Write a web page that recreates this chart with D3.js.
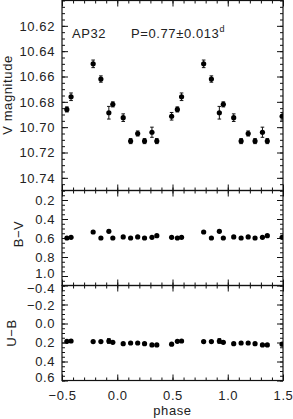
<!DOCTYPE html>
<html>
<head>
<meta charset="utf-8">
<script src="https://cdn.jsdelivr.net/npm/d3@7"></script>
<style>
  body { margin: 0; background: #fff; }
  text { font-family: "Liberation Sans", Arial, sans-serif; fill: #222; }
</style>
</head>
<body>
<div id="chart"></div>
<script>
// folded phases (0..1) of the observations
const phase = [0.054, 0.121, 0.185, 0.247, 0.314, 0.358, 0.492, 0.544, 0.582, 0.782, 0.852, 0.924, 0.960];
const vMag  = [10.6925, 10.711, 10.705, 10.711, 10.704, 10.711, 10.6914, 10.686, 10.676, 10.650, 10.662, 10.6886, 10.682];
const vErr  = [0.003, 0.002, 0.002, 0.002, 0.004, 0.002, 0.003, 0.002, 0.003, 0.003, 0.0025, 0.005, 0.002];
const bv    = [0.589, 0.600, 0.589, 0.600, 0.593, 0.576, 0.593, 0.600, 0.593, 0.537, 0.600, 0.530, 0.600];
const bvErr = [0.008, 0.008, 0.008, 0.008, 0.008, 0.008, 0.008, 0.008, 0.008, 0.008, 0.008, 0.012, 0.008];
const ub    = [0.212, 0.205, 0.205, 0.212, 0.225, 0.225, 0.218, 0.188, 0.184, 0.190, 0.190, 0.184, 0.198];
const ubErr = [0.01, 0.01, 0.01, 0.01, 0.01, 0.01, 0.01, 0.01, 0.01, 0.01, 0.01, 0.025, 0.01];
const cycles = [-1, 0, 1];
const xTicks = [-0.5, 0.0, 0.5, 1.0, 1.5];

const width = 293, height = 419;
const left = 62, right = 283;

const svg = d3.select("#chart").append("svg")
    .attr("width", width)
    .attr("height", height);

const x = d3.scaleLinear().domain([-0.5, 1.5]).range([left, right]);

const panels = [
  { key: "v", vals: vMag, errs: vErr, top: 0.5, bottom: 190.5, domain: [10.60, 10.75],
    major: d3.range(10.62, 10.745, 0.02), minor: d3.range(10.60, 10.7501, 0.005),
    fmt: d3.format(".2f"), label: "V magnitude", labelX: 12, labelY: 95 },
  { key: "bv", vals: bv, errs: bvErr, top: 190.5, bottom: 285.5, domain: [0.1, 1.1],
    major: [0.2, 0.4, 0.6, 0.8, 1.0], minor: d3.range(0.1, 1.101, 0.05),
    fmt: d3.format(".1f"), label: "B\u2212V", labelX: 23, labelY: 234 },
  { key: "ub", vals: ub, errs: ubErr, top: 285.5, bottom: 380.5, domain: [-0.4, 0.6],
    major: [-0.4, -0.2, 0.0, 0.2, 0.4, 0.6], minor: d3.range(-0.4, 0.601, 0.05),
    fmt: d => d3.format(".1f")(d).replace("-", "\u2212"), label: "U\u2212B", labelX: 16, labelY: 333 }
];

panels.forEach(function(p, i) {
  const y = d3.scaleLinear().domain(p.domain).range([p.top, p.bottom]);
  const last = i === panels.length - 1;
  const g = svg.append("g");

  g.append("clipPath").attr("id", "clip-" + p.key)
    .append("rect")
      .attr("x", left).attr("y", p.top)
      .attr("width", right - left).attr("height", p.bottom - p.top);

  // x ticks, top and bottom, pointing inward
  const xAxes = [
    { axis: d3.axisBottom(x), at: p.bottom, labels: last },
    { axis: d3.axisTop(x), at: p.top, labels: false }
  ];
  xAxes.forEach(function(a) {
    g.append("g").attr("transform", `translate(0,${a.at})`)
      .call(a.axis.tickValues(d3.range(-0.5, 1.501, 0.1)).tickSize(-3).tickFormat(""))
      .call(s => s.select(".domain").remove());
    const ax = g.append("g").attr("transform", `translate(0,${a.at})`)
      .call(a.axis.tickValues(xTicks).tickSize(-6).tickPadding(10)
        .tickFormat(a.labels ? (d => d3.format(".1f")(d).replace("-", "\u2212")) : ""))
      .call(s => s.select(".domain").remove());
    ax.selectAll("text").style("font-size", "13px").style("letter-spacing", "0.6px")
      .attr("fill", "#222");
  });

  // y ticks, left and right
  g.append("g").attr("transform", `translate(${left},0)`)
    .call(d3.axisLeft(y).tickValues(p.minor).tickSize(-3).tickFormat(""))
    .call(s => s.select(".domain").remove());
  const yl = g.append("g").attr("transform", `translate(${left},0)`)
    .call(d3.axisLeft(y).tickValues(p.major).tickSize(-6).tickPadding(7).tickFormat(p.fmt))
    .call(s => s.select(".domain").remove());
  yl.selectAll("text").style("font-size", "13px").style("letter-spacing", "0.6px")
    .attr("fill", "#222");
  // nudge the crowded labels near the panel joins
  if (p.key === "bv") {
    yl.selectAll("text").attr("dy", d => d === 1.0 ? "0.1em" : "0.32em");
  }
  if (p.key === "ub") {
    yl.selectAll("text").attr("dy", d => d === -0.4 ? "0.56em" : d === -0.2 ? "0.38em" : d === 0.6 ? "0.1em" : "0.32em");
  }
  g.append("g").attr("transform", `translate(${right},0)`)
    .call(d3.axisRight(y).tickValues(p.minor).tickSize(-3).tickFormat(""))
    .call(s => s.select(".domain").remove());
  g.append("g").attr("transform", `translate(${right},0)`)
    .call(d3.axisRight(y).tickValues(p.major).tickSize(-6).tickFormat(""))
    .call(s => s.select(".domain").remove());

  g.selectAll(".tick line").attr("stroke", "#111");

  // frame
  g.append("rect")
    .attr("x", left).attr("y", p.top)
    .attr("width", right - left).attr("height", p.bottom - p.top)
    .attr("fill", "none").attr("stroke", "#111").attr("stroke-width", 1.2);

  // folded points, repeated over three cycles
  const pts = [];
  cycles.forEach(c => phase.forEach((ph, j) => {
    const f = ph + c;
    if (f >= -0.5 && f <= 1.5) pts.push({ f: f, v: p.vals[j], e: p.errs[j] });
  }));

  const marks = g.append("g").attr("clip-path", `url(#clip-${p.key})`);
  const eb = marks.selectAll(".err").data(pts).join("g").attr("class", "err")
    .attr("stroke", "#111").attr("stroke-width", 1);
  eb.append("line")
    .attr("x1", d => x(d.f)).attr("x2", d => x(d.f))
    .attr("y1", d => y(d.v - d.e)).attr("y2", d => y(d.v + d.e));
  eb.append("line")
    .attr("x1", d => x(d.f) - 1.8).attr("x2", d => x(d.f) + 1.8)
    .attr("y1", d => y(d.v - d.e)).attr("y2", d => y(d.v - d.e));
  eb.append("line")
    .attr("x1", d => x(d.f) - 1.8).attr("x2", d => x(d.f) + 1.8)
    .attr("y1", d => y(d.v + d.e)).attr("y2", d => y(d.v + d.e));
  marks.selectAll(".pt").data(pts).join("circle").attr("class", "pt")
    .attr("cx", d => x(d.f)).attr("cy", d => y(d.v)).attr("r", 2.6)
    .attr("fill", "#000");

  // y title
  svg.append("text")
    .attr("transform", `translate(${p.labelX},${p.labelY}) rotate(-90)`)
    .attr("text-anchor", "middle")
    .style("font-size", "13px").style("letter-spacing", "0.6px")
    .text(p.label);
});

// annotations
svg.append("text").attr("x", 72).attr("y", 38)
  .style("font-size", "13px").style("letter-spacing", "0.6px")
  .text("AP32");
const per = svg.append("text").attr("x", 131).attr("y", 38)
  .style("font-size", "13px").style("letter-spacing", "0.6px");
per.append("tspan").text("P=0.77\u00b10.013");
per.append("tspan").attr("dy", -6).style("font-size", "9px").text("d");

svg.append("text")
  .attr("x", (left + right) / 2).attr("y", 414.5)
  .attr("text-anchor", "middle")
  .style("font-size", "13px").style("letter-spacing", "0.6px")
  .text("phase");
</script>
</body>
</html>
